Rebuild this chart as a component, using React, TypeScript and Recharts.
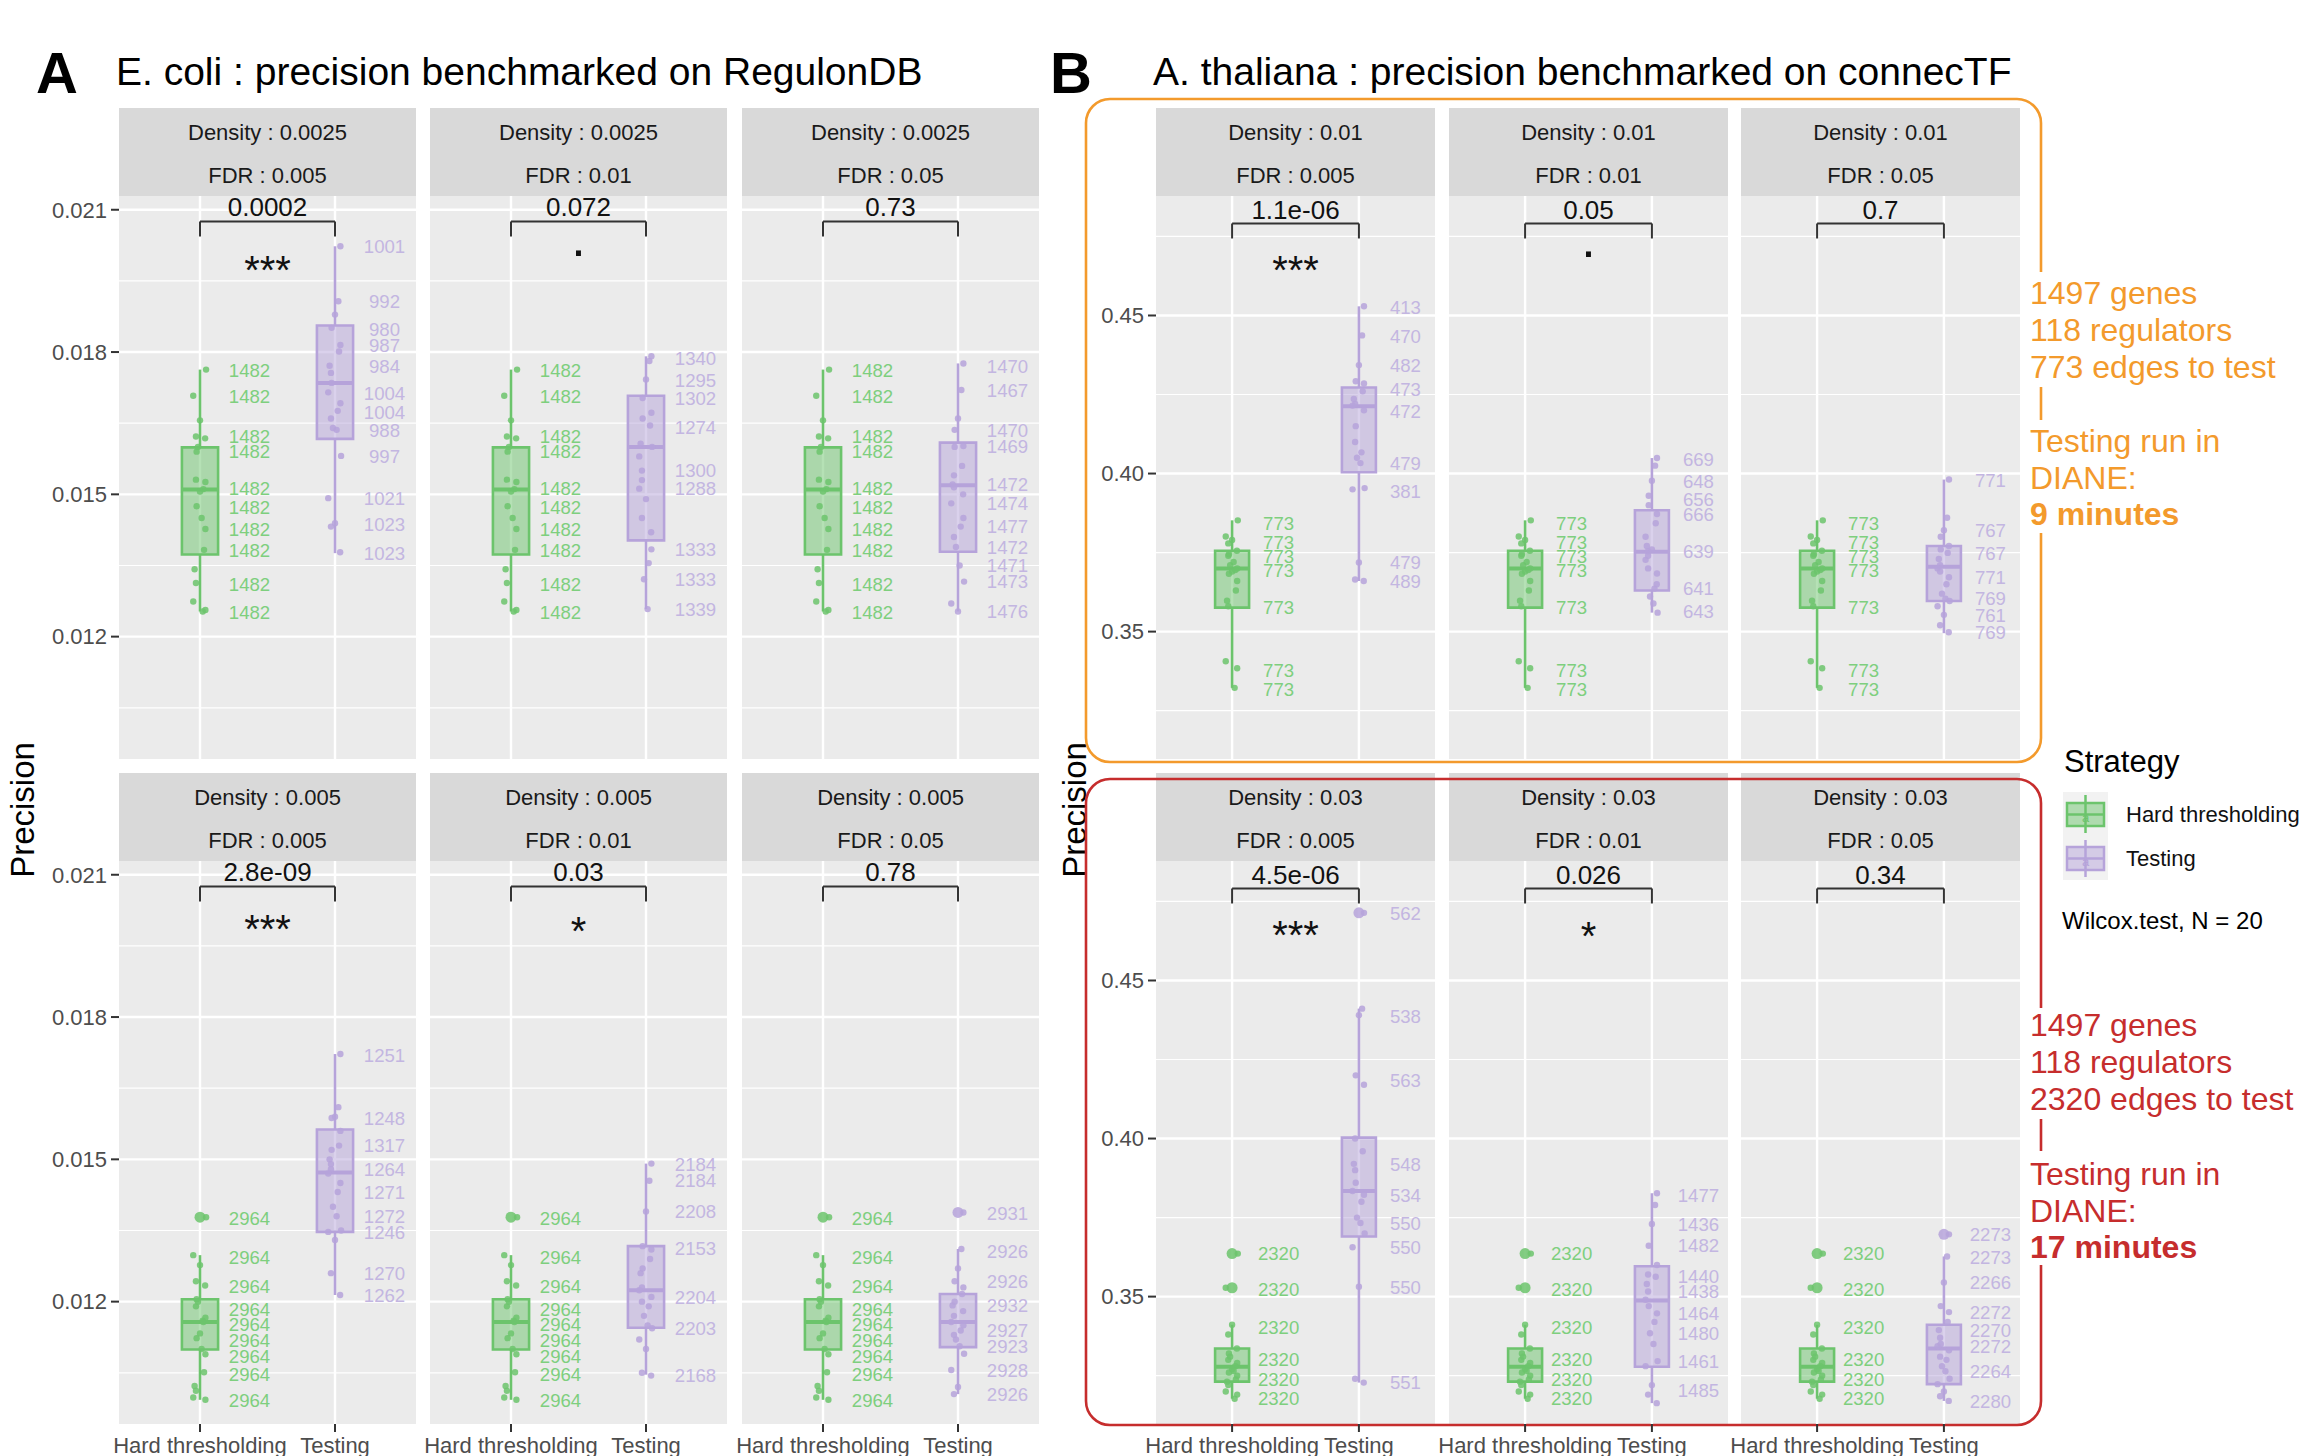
import React from "react";
import { ScatterChart, Scatter, XAxis, YAxis, ReferenceLine, ReferenceArea } from "recharts";

const FONT = '"Liberation Sans", Arial, Helvetica, sans-serif';
const GREEN = "#6CC46C";
const PURPLE = "#B6A3DA";
const GREEN_TEXT = "#7ECF7E";
const PURPLE_TEXT = "#C3B6E1";
const ORANGE = "#F39A2C";
const RED = "#C62D2D";

const CATEGORIES = ["Hard thresholding", "Testing"];
const FDRS = ["0.005", "0.01", "0.05"];
const EC_DENSITY = ["0.0025", "0.005"];
const AT_DENSITY = ["0.01", "0.03"];

// box stats are [lower whisker, Q1, median, Q3, upper whisker]

// ---- E. coli, density 0.0025 ----
const EC1_HARD_BOX = [0.01253, 0.01373, 0.0151, 0.01599, 0.01763];
const EC1_HARD_PTS = [0.01763, 0.01708, 0.01656, 0.01622, 0.01618, 0.0159, 0.01531, 0.01526, 0.01511, 0.01506, 0.01475, 0.01427, 0.01383, 0.01342, 0.01313, 0.01274, 0.01256, 0.01253, 0.016, 0.0145];
const EC1_HARD_LAB: [string, number][] = [["1482", 0.01762], ["1482", 0.01707], ["1482", 0.01622], ["1482", 0.0159], ["1482", 0.01513], ["1482", 0.01473], ["1482", 0.01427], ["1482", 0.01383], ["1482", 0.01311], ["1482", 0.01251]];

const EC1_T1_BOX = [0.01376, 0.01617, 0.01735, 0.01856, 0.02023];
const EC1_T1_PTS = [0.02023, 0.01907, 0.01879, 0.01851, 0.01815, 0.01801, 0.01771, 0.01756, 0.01715, 0.01692, 0.01676, 0.0164, 0.01636, 0.01581, 0.01492, 0.01439, 0.01432, 0.01378, 0.01735, 0.0166];
const EC1_T1_LAB: [string, number][] = [["1001", 0.02023], ["992", 0.01907], ["980", 0.01848], ["987", 0.01814], ["984", 0.0177], ["1004", 0.01714], ["1004", 0.01673], ["988", 0.01636], ["997", 0.0158], ["1021", 0.01492], ["1023", 0.01436], ["1023", 0.01375]];

const EC1_T2_BOX = [0.01258, 0.01403, 0.016, 0.01708, 0.01791];
const EC1_T2_PTS = [0.01791, 0.01781, 0.01742, 0.01703, 0.01672, 0.01645, 0.01607, 0.0155, 0.01512, 0.01384, 0.01355, 0.01321, 0.01258, 0.016, 0.0158, 0.0149, 0.0145, 0.0142, 0.0166, 0.0153];
const EC1_T2_LAB: [string, number][] = [["1340", 0.01786], ["1295", 0.0174], ["1302", 0.01702], ["1274", 0.01642], ["1300", 0.0155], ["1288", 0.01512], ["1333", 0.01384], ["1333", 0.01321], ["1339", 0.01258]];

const EC1_T3_BOX = [0.01253, 0.01379, 0.01519, 0.01609, 0.01776];
const EC1_T3_PTS = [0.01776, 0.0172, 0.0166, 0.01636, 0.01602, 0.0156, 0.01521, 0.01515, 0.01481, 0.0145, 0.01432, 0.01389, 0.0135, 0.01316, 0.0127, 0.01253, 0.0154, 0.015, 0.016, 0.0141];
const EC1_T3_LAB: [string, number][] = [["1470", 0.01771], ["1467", 0.0172], ["1470", 0.01636], ["1469", 0.01602], ["1472", 0.01521], ["1474", 0.01481], ["1477", 0.01432], ["1472", 0.01389], ["1471", 0.0135], ["1473", 0.01316], ["1476", 0.01253]];

// ---- E. coli, density 0.005 ----
const EC2_HARD_BOX = [0.00993, 0.01099, 0.01157, 0.01205, 0.01298];
const EC2_HARD_OUT = [0.01378];
const EC2_HARD_PTS = [0.01378, 0.01298, 0.01277, 0.01243, 0.01234, 0.01205, 0.0119, 0.01166, 0.01157, 0.01133, 0.01123, 0.01089, 0.01051, 0.01022, 0.01012, 0.00998, 0.00993, 0.0116, 0.012, 0.011];
const EC2_HARD_LAB: [string, number][] = [["2964", 0.01376], ["2964", 0.01294], ["2964", 0.01232], ["2964", 0.01184], ["2964", 0.01152], ["2964", 0.01118], ["2964", 0.01084], ["2964", 0.01046], ["2964", 0.00993]];

const EC2_T1_BOX = [0.01214, 0.01347, 0.01472, 0.01563, 0.01722];
const EC2_T1_PTS = [0.01722, 0.0161, 0.0159, 0.01587, 0.0156, 0.01529, 0.015, 0.01479, 0.0147, 0.0145, 0.01431, 0.014, 0.0138, 0.0135, 0.01347, 0.0133, 0.0126, 0.01214, 0.0152, 0.0149];
const EC2_T1_LAB: [string, number][] = [["1251", 0.0172], ["1248", 0.01587], ["1317", 0.01529], ["1264", 0.01479], ["1271", 0.01431], ["1272", 0.0138], ["1246", 0.01347], ["1270", 0.0126], ["1262", 0.01214]];

const EC2_T2_BOX = [0.01046, 0.01145, 0.01224, 0.01317, 0.01491];
const EC2_T2_PTS = [0.01491, 0.01455, 0.0139, 0.01317, 0.0131, 0.0129, 0.0126, 0.0123, 0.01224, 0.0121, 0.0119, 0.0117, 0.0115, 0.01144, 0.0112, 0.011, 0.0105, 0.01044, 0.0127, 0.012];
const EC2_T2_LAB: [string, number][] = [["2184", 0.01489], ["2184", 0.01455], ["2208", 0.0139], ["2153", 0.01313], ["2204", 0.0121], ["2203", 0.01144], ["2168", 0.01044]];

const EC2_T3_BOX = [0.01005, 0.01104, 0.01157, 0.01216, 0.01311];
const EC2_T3_OUT = [0.01388];
const EC2_T3_PTS = [0.01388, 0.01311, 0.0127, 0.01243, 0.0123, 0.01216, 0.01192, 0.0117, 0.01157, 0.0115, 0.01139, 0.0112, 0.01106, 0.0109, 0.01056, 0.0102, 0.01005, 0.0118, 0.012, 0.0113];
const EC2_T3_LAB: [string, number][] = [["2931", 0.01386], ["2926", 0.01306], ["2926", 0.01243], ["2932", 0.01192], ["2927", 0.01139], ["2923", 0.01106], ["2928", 0.01056], ["2926", 0.01005]];

// ---- A. thaliana, density 0.01 ----
const AT1_HARD_BOX = [0.3322, 0.3576, 0.37, 0.3756, 0.3852];
const AT1_HARD_PTS = [0.3852, 0.3801, 0.379, 0.3779, 0.3756, 0.3745, 0.374, 0.37, 0.3695, 0.369, 0.3683, 0.366, 0.363, 0.3598, 0.358, 0.3406, 0.3384, 0.3322, 0.371, 0.372];
const AT1_HARD_LAB: [string, number][] = [["773", 0.3844], ["773", 0.3784], ["773", 0.3739], ["773", 0.3694], ["773", 0.3576], ["773", 0.3378], ["773", 0.3316]];

const AT1_T1_BOX = [0.366, 0.4004, 0.4213, 0.4272, 0.4529];
const AT1_T1_PTS = [0.4529, 0.4437, 0.4343, 0.4292, 0.4285, 0.426, 0.4236, 0.422, 0.4215, 0.42, 0.4067, 0.405, 0.4033, 0.3954, 0.395, 0.3719, 0.3665, 0.366, 0.415, 0.41];
const AT1_T1_LAB: [string, number][] = [["413", 0.4526], ["470", 0.4434], ["482", 0.4343], ["473", 0.4266], ["472", 0.4196], ["479", 0.4033], ["381", 0.3945], ["479", 0.3719], ["489", 0.366]];

const AT1_T2_BOX = [0.356, 0.363, 0.3753, 0.3884, 0.4049];
const AT1_T2_PTS = [0.4049, 0.4025, 0.3977, 0.393, 0.3872, 0.3843, 0.3771, 0.3754, 0.3727, 0.3684, 0.3636, 0.3611, 0.3589, 0.356, 0.38, 0.376, 0.37, 0.365, 0.39, 0.374];
const AT1_T2_LAB: [string, number][] = [["669", 0.4044], ["648", 0.3977], ["656", 0.392], ["666", 0.3872], ["639", 0.3754], ["641", 0.3636], ["643", 0.3563]];

const AT1_T3_BOX = [0.3495, 0.3597, 0.3705, 0.3771, 0.3981];
const AT1_T3_PTS = [0.3981, 0.386, 0.3821, 0.38, 0.3771, 0.3749, 0.373, 0.371, 0.37, 0.3672, 0.365, 0.362, 0.3604, 0.3597, 0.358, 0.3553, 0.352, 0.3498, 0.376, 0.369];
const AT1_T3_LAB: [string, number][] = [["771", 0.3979], ["767", 0.3821], ["767", 0.3749], ["771", 0.3672], ["769", 0.3604], ["761", 0.3553], ["769", 0.3498]];

// ---- A. thaliana, density 0.03 ----
const AT2_HARD_BOX = [0.3177, 0.3231, 0.3278, 0.3336, 0.3411];
const AT2_HARD_OUT = [0.3636, 0.3528];
const AT2_HARD_PTS = [0.3636, 0.3528, 0.3411, 0.338, 0.3336, 0.332, 0.33, 0.329, 0.328, 0.327, 0.326, 0.325, 0.3238, 0.3231, 0.322, 0.32, 0.319, 0.3177, 0.331, 0.3265];
const AT2_HARD_LAB: [string, number][] = [["2320", 0.3636], ["2320", 0.3524], ["2320", 0.3404], ["2320", 0.3303], ["2320", 0.3238], ["2320", 0.3177]];

const AT2_T1_BOX = [0.3228, 0.369, 0.3834, 0.4003, 0.4411];
const AT2_T1_OUT = [0.4714];
const AT2_T1_PTS = [0.4714, 0.4411, 0.439, 0.42, 0.417, 0.396, 0.392, 0.39, 0.3834, 0.3822, 0.38, 0.375, 0.3733, 0.37, 0.3656, 0.3531, 0.324, 0.3228, 0.386, 0.4];
const AT2_T1_LAB: [string, number][] = [["562", 0.4711], ["538", 0.4387], ["563", 0.4185], ["548", 0.392], ["534", 0.3822], ["550", 0.3733], ["550", 0.3656], ["550", 0.3531], ["551", 0.3228]];

const AT2_T2_BOX = [0.3163, 0.3278, 0.3488, 0.3596, 0.3827];
const AT2_T2_PTS = [0.3827, 0.379, 0.373, 0.3661, 0.36, 0.3563, 0.354, 0.3516, 0.349, 0.3447, 0.342, 0.3384, 0.335, 0.3296, 0.328, 0.322, 0.319, 0.3163, 0.347, 0.357];
const AT2_T2_LAB: [string, number][] = [["1477", 0.382], ["1436", 0.373], ["1482", 0.3661], ["1440", 0.3563], ["1438", 0.3516], ["1464", 0.3447], ["1480", 0.3384], ["1461", 0.3296], ["1485", 0.3203]];

const AT2_T3_BOX = [0.317, 0.3223, 0.3336, 0.3411, 0.3627];
const AT2_T3_OUT = [0.3697];
const AT2_T3_PTS = [0.3697, 0.3627, 0.3545, 0.347, 0.3451, 0.342, 0.3394, 0.337, 0.3343, 0.333, 0.33, 0.328, 0.3264, 0.324, 0.3223, 0.32, 0.3185, 0.317, 0.335, 0.331];
const AT2_T3_LAB: [string, number][] = [["2273", 0.3696], ["2273", 0.3625], ["2266", 0.3545], ["2272", 0.3451], ["2270", 0.3394], ["2272", 0.3343], ["2264", 0.3264], ["2280", 0.317]];

// wilcox p-values and significance per FDR column
const EC1_P = ["0.0002", "0.072", "0.73"];
const EC2_P = ["2.8e-09", "0.03", "0.78"];
const AT1_P = ["1.1e-06", "0.05", "0.7"];
const AT2_P = ["4.5e-06", "0.026", "0.34"];
const EC1_STARS = ["***", ".", ""];
const EC2_STARS = ["***", "*", ""];
const AT1_STARS = ["***", ".", ""];
const AT2_STARS = ["***", "*", ""];
const EC1_STAR_Y = [0.01991, 0.02008, 0];
const EC2_STAR_Y = [0.02004, 0.02, 0];
const AT1_STAR_Y = [0.4673, 0.4692, 0];
const AT2_STAR_Y = [0.4672, 0.4668, 0];

const EC_AXIS = {
  domain: [0.00942, 0.02129],
  ticks: [0.012, 0.015, 0.018, 0.021],
  minor: [0.0105, 0.0135, 0.0165, 0.0195],
  digits: 3,
  bracket: 0.02075,
  leg: 0.000316,
  pY: 0.02107,
};
const AT_AXIS = {
  domain: [0.3097, 0.4878],
  ticks: [0.35, 0.4, 0.45],
  minor: [0.325, 0.375, 0.425, 0.475],
  digits: 2,
  bracket: 0.4791,
  leg: 0.00474,
  pY: 0.4834,
};

// jitter offsets (x units) for the 20 runs
const JITTER = [0.045, -0.05, 0.0, -0.03, 0.038, -0.025, -0.03, 0.04, 0.025, 0.0, -0.025, 0.04, 0.03, -0.04, -0.03, -0.05, 0.04, 0.02, -0.015, 0.012];

// layout
const ROW_TOP = [196, 861];
const PANEL_H = 563;
const STRIP_H = 88;
const A_COLS = [119, 430, 742];
const A_W = 297;
const B_COLS = [1156, 1449, 1741];
const B_W = 279;
const AXIS_W = 110;
const SIDE = 70; // extra room so bottom tick labels are not clipped
const PAD_TOP = 14;
const XAXIS_H = 40;
const BOX_HALF = 0.134;
const LABEL_DX = 0.367;

type Group = { box: number[]; out: number[]; pts: number[]; lab: [string, number][] };
const g = (box: number[], pts: number[], lab: [string, number][], out: number[] = []): Group => ({ box, pts, lab, out });

const BLOCKS = [
  { cols: A_COLS, w: A_W, top: ROW_TOP[0], bottom: false, density: EC_DENSITY[0], axis: EC_AXIS, hard: g(EC1_HARD_BOX, EC1_HARD_PTS, EC1_HARD_LAB), tests: [g(EC1_T1_BOX, EC1_T1_PTS, EC1_T1_LAB), g(EC1_T2_BOX, EC1_T2_PTS, EC1_T2_LAB), g(EC1_T3_BOX, EC1_T3_PTS, EC1_T3_LAB)], p: EC1_P, stars: EC1_STARS, starY: EC1_STAR_Y },
  { cols: A_COLS, w: A_W, top: ROW_TOP[1], bottom: true, density: EC_DENSITY[1], axis: EC_AXIS, hard: g(EC2_HARD_BOX, EC2_HARD_PTS, EC2_HARD_LAB, EC2_HARD_OUT), tests: [g(EC2_T1_BOX, EC2_T1_PTS, EC2_T1_LAB), g(EC2_T2_BOX, EC2_T2_PTS, EC2_T2_LAB), g(EC2_T3_BOX, EC2_T3_PTS, EC2_T3_LAB, EC2_T3_OUT)], p: EC2_P, stars: EC2_STARS, starY: EC2_STAR_Y },
  { cols: B_COLS, w: B_W, top: ROW_TOP[0], bottom: false, density: AT_DENSITY[0], axis: AT_AXIS, hard: g(AT1_HARD_BOX, AT1_HARD_PTS, AT1_HARD_LAB), tests: [g(AT1_T1_BOX, AT1_T1_PTS, AT1_T1_LAB), g(AT1_T2_BOX, AT1_T2_PTS, AT1_T2_LAB), g(AT1_T3_BOX, AT1_T3_PTS, AT1_T3_LAB)], p: AT1_P, stars: AT1_STARS, starY: AT1_STAR_Y },
  { cols: B_COLS, w: B_W, top: ROW_TOP[1], bottom: true, density: AT_DENSITY[1], axis: AT_AXIS, hard: g(AT2_HARD_BOX, AT2_HARD_PTS, AT2_HARD_LAB, AT2_HARD_OUT), tests: [g(AT2_T1_BOX, AT2_T1_PTS, AT2_T1_LAB, AT2_T1_OUT), g(AT2_T2_BOX, AT2_T2_PTS, AT2_T2_LAB), g(AT2_T3_BOX, AT2_T3_PTS, AT2_T3_LAB, AT2_T3_OUT)], p: AT2_P, stars: AT2_STARS, starY: AT2_STAR_Y },
];

const renderDot = (props: any) => {
  const { cx, cy, payload } = props;
  return <circle cx={cx} cy={cy} r={payload.r} fill={payload.color} fillOpacity={0.85} />;
};

const renderLabel = (props: any) => {
  const { cx, cy, payload } = props;
  return (
    <text x={cx} y={cy + 6.7} textAnchor="middle" fontSize={18.6} fill={payload.color}>
      {payload.text}
    </text>
  );
};

const renderNote = (props: any) => {
  const { cx, cy, payload } = props;
  if (payload.kind === "p") {
    return (
      <text x={cx} y={cy + 9.3} textAnchor="middle" fontSize={26} fill="#111">
        {payload.text}
      </text>
    );
  }
  const dot = payload.text === ".";
  return (
    <text x={cx} y={cy + (dot ? 2.5 : 23)} textAnchor="middle" fontSize={dot ? 52 : 40} fill="#111">
      {payload.text}
    </text>
  );
};

function BoxMarks({ x, box, color }: { x: number; box: number[]; color: string }) {
  const [lo, q1, med, q3, hi] = box;
  return (
    <>
      <ReferenceLine segment={[{ x, y: lo }, { x, y: q1 }]} stroke={color} strokeWidth={2.6} zIndex={400} />
      <ReferenceLine segment={[{ x, y: q3 }, { x, y: hi }]} stroke={color} strokeWidth={2.6} zIndex={400} />
      <ReferenceArea x1={x - BOX_HALF} x2={x + BOX_HALF} y1={q1} y2={q3} fill={color} fillOpacity={0.5} stroke={color} strokeWidth={2.6} zIndex={100} />
      <ReferenceLine segment={[{ x: x - BOX_HALF, y: med }, { x: x + BOX_HALF, y: med }]} stroke={color} strokeWidth={4} zIndex={400} />
    </>
  );
}

function Panel({ left, top, width, showX, showY, axis, hard, test, p, star, starY }: any) {
  const padL = showY ? AXIS_W : SIDE;
  const chartW = width + padL + SIDE;
  const chartH = PAD_TOP + PANEL_H + (showX ? XAXIS_H : 0);
  const pts = [
    ...hard.pts.map((y: number, i: number) => ({ x: 1 + JITTER[i % JITTER.length], y, r: 3.2, color: GREEN })),
    ...hard.out.map((y: number) => ({ x: 1, y, r: 5.5, color: GREEN })),
    ...test.pts.map((y: number, i: number) => ({ x: 2 + JITTER[(i + 7) % JITTER.length], y, r: 3.2, color: PURPLE })),
    ...test.out.map((y: number) => ({ x: 2, y, r: 5.5, color: PURPLE })),
  ];
  const labels = [
    ...hard.lab.map(([text, y]: [string, number]) => ({ x: 1 + LABEL_DX, y, text, color: GREEN_TEXT })),
    ...test.lab.map(([text, y]: [string, number]) => ({ x: 2 + LABEL_DX, y, text, color: PURPLE_TEXT })),
  ];
  const notes: any[] = [{ x: 1.5, y: axis.pY, text: p, kind: "p" }];
  if (star) notes.push({ x: 1.5, y: starY, text: star, kind: "star" });
  const b = axis.bracket;
  return (
    <div style={{ position: "absolute", left: left - padL, top: top - PAD_TOP }}>
      <ScatterChart
        width={chartW}
        height={chartH}
        margin={{ top: PAD_TOP, right: SIDE, bottom: 0, left: showY ? 0 : SIDE }}
      >
        <XAxis
          type="number"
          dataKey="x"
          domain={[0.4, 2.6]}
          ticks={[1, 2]}
          allowDataOverflow
          hide={!showX}
          height={XAXIS_H}
          interval={0}
          tickFormatter={(v: number) => CATEGORIES[v - 1]}
          tick={{ fontSize: 22, fill: "#4D4D4D" }}
          tickSize={8}
          tickMargin={5}
          tickLine={{ stroke: "#333", strokeWidth: 2 }}
          axisLine={false}
        />
        <YAxis
          type="number"
          dataKey="y"
          domain={axis.domain}
          ticks={axis.ticks}
          allowDataOverflow
          hide={!showY}
          width={AXIS_W}
          tickFormatter={(v: number) => v.toFixed(axis.digits)}
          tick={{ fontSize: 22, fill: "#4D4D4D" }}
          tickSize={8}
          tickMargin={4}
          tickLine={{ stroke: "#333", strokeWidth: 2 }}
          axisLine={false}
        />
        {axis.minor.map((v: number) => (
          <ReferenceLine key={"mi" + v} y={v} stroke="#fff" strokeWidth={1.2} zIndex={-50} />
        ))}
        {axis.ticks.map((v: number) => (
          <ReferenceLine key={"ma" + v} y={v} stroke="#fff" strokeWidth={2.4} zIndex={-50} />
        ))}
        {[1, 2].map((v) => (
          <ReferenceLine key={"v" + v} x={v} stroke="#fff" strokeWidth={2.4} zIndex={-50} />
        ))}
        {BoxMarks({ x: 1, box: hard.box, color: GREEN })}
        {BoxMarks({ x: 2, box: test.box, color: PURPLE })}
        <ReferenceLine segment={[{ x: 1, y: b }, { x: 2, y: b }]} stroke="#333" strokeWidth={2} />
        <ReferenceLine segment={[{ x: 1, y: b }, { x: 1, y: b - axis.leg }]} stroke="#333" strokeWidth={2} />
        <ReferenceLine segment={[{ x: 2, y: b }, { x: 2, y: b - axis.leg }]} stroke="#333" strokeWidth={2} />
        <Scatter data={pts} shape={renderDot} isAnimationActive={false} />
        <Scatter data={labels} shape={renderLabel} isAnimationActive={false} />
        <Scatter data={notes} shape={renderNote} isAnimationActive={false} />
      </ScatterChart>
    </div>
  );
}

function Backdrop() {
  return (
    <svg width={2303} height={1456} style={{ position: "absolute", left: 0, top: 0 }}>
      <text x={36} y={93} fontSize={58} fontWeight="bold">A</text>
      <text x={116} y={85} fontSize={39}>E. coli : precision benchmarked on RegulonDB</text>
      <text x={1050} y={93} fontSize={58} fontWeight="bold">B</text>
      <text x={1153} y={85} fontSize={39}>A. thaliana : precision benchmarked on connecTF</text>

      {BLOCKS.map((blk, bi) =>
        blk.cols.map((x, ci) => (
          <g key={bi + "-" + ci}>
            <rect x={x} y={blk.top} width={blk.w} height={PANEL_H} fill="#EBEBEB" />
            <rect x={x} y={blk.top - STRIP_H} width={blk.w} height={STRIP_H} fill="#D9D9D9" />
            <text x={x + blk.w / 2} y={blk.top - STRIP_H + 32} textAnchor="middle" fontSize={22} fill="#1A1A1A">
              {"Density : " + blk.density}
            </text>
            <text x={x + blk.w / 2} y={blk.top - STRIP_H + 75} textAnchor="middle" fontSize={22} fill="#1A1A1A">
              {"FDR : " + FDRS[ci]}
            </text>
          </g>
        ))
      )}

      <text transform="translate(34,810) rotate(-90)" textAnchor="middle" fontSize={33}>Precision</text>
      <text transform="translate(1086,810) rotate(-90)" textAnchor="middle" fontSize={33}>Precision</text>

      {/* orange annotation */}
      <rect x={1086} y={99} width={955} height={663} rx={24} fill="none" stroke={ORANGE} strokeWidth={2.6} />
      <rect x={2026} y={272} width={277} height={115} fill="#fff" />
      <rect x={2026} y={420} width={277} height={113} fill="#fff" />
      <g fontSize={32} fill={ORANGE}>
        <text x={2030} y={304}>1497 genes</text>
        <text x={2030} y={341}>118 regulators</text>
        <text x={2030} y={378}>773 edges to test</text>
        <text x={2030} y={452}>Testing run in</text>
        <text x={2030} y={489}>DIANE:</text>
        <text x={2030} y={525} fontWeight="bold">9 minutes</text>
      </g>

      {/* red annotation */}
      <rect x={1086} y={779} width={955} height={646} rx={24} fill="none" stroke={RED} strokeWidth={2.6} />
      <rect x={2026} y={1008} width={277} height={111} fill="#fff" />
      <rect x={2026} y={1151} width={277} height={114} fill="#fff" />
      <g fontSize={32} fill={RED}>
        <text x={2030} y={1036}>1497 genes</text>
        <text x={2030} y={1073}>118 regulators</text>
        <text x={2030} y={1110}>2320 edges to test</text>
        <text x={2030} y={1185}>Testing run in</text>
        <text x={2030} y={1222}>DIANE:</text>
        <text x={2030} y={1258} fontWeight="bold">17 minutes</text>
      </g>

      {/* legend */}
      <text x={2064} y={772} fontSize={31} fill="#000">Strategy</text>
      <rect x={2063} y={792} width={45} height={88} fill="#F2F2F2" />
      <line x1={2085.5} x2={2085.5} y1={795} y2={833} stroke={GREEN} strokeWidth={2.5} />
      <rect x={2067} y={803} width={37} height={23} fill={GREEN} fillOpacity={0.5} stroke={GREEN} strokeWidth={2.5} />
      <line x1={2067} x2={2104} y1={814.5} y2={814.5} stroke={GREEN} strokeWidth={2.5} />
      <text x={2085.5} y={822} fontSize={13} textAnchor="middle" fill={GREEN}>a</text>
      <line x1={2085.5} x2={2085.5} y1={840} y2={877} stroke={PURPLE} strokeWidth={2.5} />
      <rect x={2067} y={847} width={37} height={23} fill={PURPLE} fillOpacity={0.5} stroke={PURPLE} strokeWidth={2.5} />
      <line x1={2067} x2={2104} y1={858.5} y2={858.5} stroke={PURPLE} strokeWidth={2.5} />
      <text x={2085.5} y={866} fontSize={13} textAnchor="middle" fill={PURPLE}>a</text>
      <text x={2126} y={822} fontSize={22} fill="#111">{CATEGORIES[0]}</text>
      <text x={2126} y={866} fontSize={22} fill="#111">{CATEGORIES[1]}</text>
      <text x={2062} y={929} fontSize={24} fill="#000">Wilcox.test, N = 20</text>
    </svg>
  );
}

export default function App() {
  return (
    <div style={{ position: "absolute", left: 0, top: 0, width: 2303, height: 1456, background: "#fff", overflow: "hidden", fontFamily: FONT }}>
      <Backdrop />
      {BLOCKS.map((blk, bi) =>
        blk.cols.map((x, ci) => (
          <Panel
            key={bi + "-" + ci}
            left={x}
            top={blk.top}
            width={blk.w}
            showX={blk.bottom}
            showY={ci === 0}
            axis={blk.axis}
            hard={blk.hard}
            test={blk.tests[ci]}
            p={blk.p[ci]}
            star={blk.stars[ci]}
            starY={blk.starY[ci]}
          />
        ))
      )}
    </div>
  );
}
